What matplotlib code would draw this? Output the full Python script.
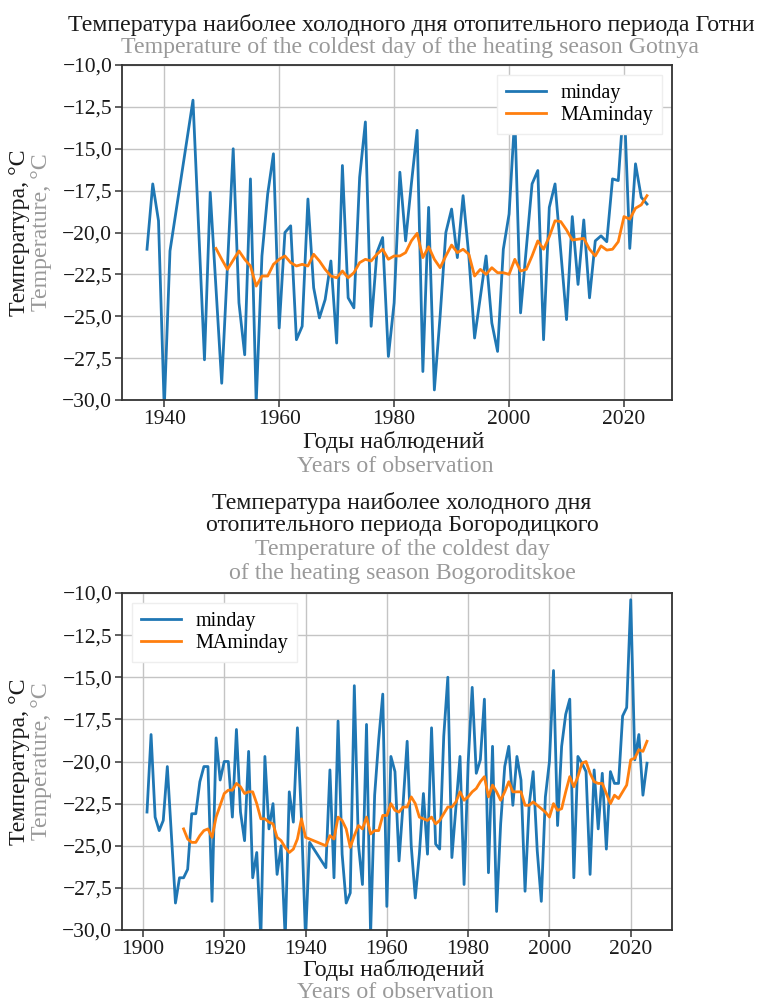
import matplotlib
matplotlib.use("Agg")
import matplotlib.pyplot as plt
from matplotlib.ticker import FuncFormatter, MultipleLocator

# ---------------- data: Gotnya ----------------
years_top = [1937, 1938, 1939, 1940, 1941, 1945, 1947, 1948, 1950, 1952, 1953, 1954,
             1955, 1956, 1957, 1958, 1959, 1960, 1961, 1962, 1963, 1964, 1965, 1966,
             1967, 1968, 1969, 1970, 1971, 1972, 1973, 1974, 1975, 1976, 1977, 1978,
             1979, 1980, 1981, 1982, 1983, 1984, 1985, 1986, 1987, 1988, 1989, 1990,
             1991, 1992, 1993, 1994, 1996, 1997, 1998, 1999, 2000, 2001, 2002, 2004,
             2005, 2006, 2007, 2008, 2010, 2011, 2012, 2013, 2014, 2015, 2016, 2017,
             2018, 2019, 2020, 2021, 2022, 2023, 2024]
minday_top = [-21.0, -17.1, -19.3, -30.5, -21.1, -12.1, -27.6, -17.6, -29.0, -15.0, -24.2, -27.3,
              -16.8, -30.2, -21.4, -17.7, -15.3, -25.7, -20.0, -19.6, -26.4, -25.6, -18.0, -23.3,
              -25.1, -24.0, -21.7, -26.6, -16.0, -23.9, -24.5, -16.7, -13.4, -25.6, -21.2, -20.3,
              -27.4, -24.2, -16.4, -20.5, -17.1, -13.9, -28.3, -18.5, -29.4, -25.0, -20.0, -18.6,
              -21.5, -17.8, -21.4, -26.3, -21.4, -25.4, -27.1, -21.0, -18.9, -13.0, -24.8, -17.1,
              -16.3, -26.4, -18.5, -17.1, -25.2, -19.05, -23.1, -19.25, -23.9, -20.5, -20.2, -20.55,
              -16.8, -16.9, -12.0, -20.95, -15.9, -17.9, -18.3]

ma_years_top = list(range(1949, 2025))
maminday_top = [-20.95, -21.6, -22.2, -21.65, -21.1, -21.6, -22.0, -23.2, -22.6, -22.6,
                -21.9, -21.6, -21.4, -21.8, -22.0, -21.9, -22.0, -21.3, -21.7, -22.2,
                -22.6, -22.7, -22.3, -22.7, -22.4, -21.8, -21.6, -21.7, -21.3, -21.0,
                -21.6, -21.4, -21.4, -21.2, -20.5, -20.05, -21.5, -20.85, -21.6, -22.1,
                -21.4, -20.75, -21.2, -21.0, -21.3, -22.6, -22.2, -22.5, -22.1, -22.4,
                -22.4, -22.5, -21.6, -22.3, -22.2, -21.4, -20.5, -21.0, -20.25, -19.3,
                -19.35, -19.85, -20.45, -20.4, -20.35, -21.0, -21.4, -20.8, -21.05, -21.0,
                -20.55, -19.05, -19.2, -18.55, -18.35, -17.8]

# ---------------- data: Bogoroditskoe ----------------
years_bot = [1901, 1902, 1903, 1904, 1905, 1906, 1908, 1909, 1910, 1911, 1912, 1913,
             1914, 1915, 1916, 1917, 1918, 1919, 1920, 1921, 1922, 1923, 1924, 1925,
             1926, 1927, 1928, 1929, 1930, 1931, 1932, 1933, 1934, 1935, 1936, 1937,
             1938, 1939, 1940, 1941, 1945, 1946, 1947, 1948, 1949, 1950, 1951, 1952,
             1953, 1954, 1955, 1956, 1957, 1958, 1959, 1960, 1961, 1962, 1963, 1964,
             1965, 1966, 1967, 1968, 1969, 1970, 1971, 1972, 1973, 1974, 1975, 1976,
             1977, 1978, 1979, 1980, 1981, 1982, 1983, 1984, 1985, 1986, 1987, 1988,
             1989, 1990, 1991, 1992, 1993, 1994, 1995, 1996, 1997, 1998, 1999, 2000,
             2001, 2002, 2003, 2004, 2005, 2006, 2007, 2008, 2009, 2010, 2011, 2012,
             2013, 2014, 2015, 2016, 2017, 2018, 2019, 2020, 2021, 2022, 2023, 2024]
minday_bot = [-23.0, -18.4, -23.3, -24.1, -23.5, -20.3, -28.4, -26.9, -26.9, -26.4, -23.1, -23.1,
              -21.2, -20.3, -20.3, -28.3, -18.6, -21.1, -20.0, -20.0, -23.3, -18.1, -23.0, -24.7,
              -19.4, -26.9, -25.4, -30.5, -19.7, -24.0, -22.5, -26.7, -25.0, -30.5, -21.8, -23.6,
              -18.0, -23.4, -30.5, -24.8, -26.3, -20.5, -26.9, -17.6, -25.5, -28.4, -27.8, -15.5,
              -24.9, -27.3, -17.8, -30.3, -22.0, -18.7, -16.0, -28.6, -19.7, -20.6, -25.9, -22.5,
              -18.8, -25.0, -28.1, -25.5, -21.9, -25.5, -18.0, -24.9, -25.2, -18.5, -15.0, -25.7,
              -22.7, -19.7, -27.3, -20.1, -15.6, -20.7, -19.9, -16.3, -26.6, -19.1, -28.9, -23.7,
              -20.3, -19.1, -22.6, -19.7, -21.1, -27.7, -22.6, -20.6, -25.3, -28.3, -22.1, -20.0,
              -14.6, -23.8, -19.1, -17.2, -16.3, -26.9, -19.7, -20.1, -20.6, -26.7, -20.5, -24.0,
              -20.7, -25.2, -20.6, -21.3, -21.3, -17.3, -16.8, -10.4, -19.9, -18.4, -22.0, -20.1]

ma_years_bot = list(range(1910, 1942)) + list(range(1945, 2025))
maminday_bot = [-24.0, -24.6, -24.8, -24.8, -24.4, -24.1, -24.0, -24.5, -23.3, -22.6,
                -21.9, -21.7, -21.7, -21.3, -21.5, -21.9, -21.8, -21.8, -22.5, -23.4,
                -23.4, -23.6, -23.7, -24.5, -24.7, -25.1, -25.4, -25.2, -24.6, -23.4,
                -24.5, -24.6,
                -25.0, -24.4, -24.6, -23.3, -23.5, -24.0, -25.1, -24.4, -23.8, -24.0,
                -23.3, -24.3, -24.1, -24.1, -23.2, -23.2, -22.5, -22.9, -23.0, -22.7,
                -22.7, -22.1, -22.5, -23.3, -23.4, -23.5, -23.3, -23.7, -23.5, -23.1,
                -22.7, -22.7, -22.4, -21.8, -22.3, -22.1, -21.8, -21.6, -21.2, -20.9,
                -22.1, -21.4, -21.8, -22.3, -21.8, -21.2, -21.8, -21.8, -21.8, -22.6,
                -22.6, -22.4, -22.6, -22.8, -23.0, -23.3, -22.5, -22.9, -22.8, -21.8,
                -20.9, -21.5, -20.9, -20.1, -20.0, -20.7, -21.2, -21.3, -21.3, -21.9,
                -22.5, -22.0, -22.2, -21.8, -21.4, -19.9, -19.8, -19.3, -19.4, -18.8]

title_top_ru = "Температура наиболее холодного дня отопительного периода Готни"
title_top_en = "Temperature of the coldest day of the heating season Gotnya"
title_bot_ru = ["Температура наиболее холодного дня", "отопительного периода Богородицкого"]
title_bot_en = ["Temperature of the coldest day", "of the heating season Bogoroditskoe"]
ylabel_ru = "Температура, °C"
ylabel_en = "Temperature, °C"
xlabel_ru = "Годы наблюдений"
xlabel_en = "Years of observation"

plt.rcParams['font.family'] = ['Liberation Serif', 'DejaVu Serif']

GREY = '#999999'
BLUE = '#1f77b4'
ORANGE = '#ff7f0e'
TICK_FS = 15.5
TITLE_FS = 17.2
LABEL_FS = 17.2
LEG_FS = 14.5

fig = plt.figure(figsize=(7.59, 10.02), dpi=100)
W, H = 759, 1002


def fx(px):
    return px / W


def fy(py):
    return 1 - py / H


ax1 = fig.add_axes([fx(122), fy(400), fx(672) - fx(122), fy(65) - fy(400)])
ax2 = fig.add_axes([fx(122), fy(930), fx(672) - fx(122), fy(593) - fy(930)])

fmt = FuncFormatter(lambda v, p: ("%.1f" % v).replace('.', ',').replace('-', '\u2212'))

for ax, yrs, vals, myrs, mvals, loc in [
        (ax1, years_top, minday_top, ma_years_top, maminday_top, 'upper right'),
        (ax2, years_bot, minday_bot, ma_years_bot, maminday_bot, 'upper left')]:
    ax.plot(yrs, vals, color=BLUE, lw=2, label='minday')
    ax.plot(myrs, mvals, color=ORANGE, lw=2, label='MAminday')
    ax.set_ylim(-30, -10)
    ax.yaxis.set_major_locator(MultipleLocator(2.5))
    ax.xaxis.set_major_locator(MultipleLocator(20))
    ax.yaxis.set_major_formatter(fmt)
    ax.grid(True, color='#c4c4c4', lw=1)
    ax.set_axisbelow(True)
    for s in ax.spines.values():
        s.set_color('#333333')
        s.set_linewidth(1.3)
    ax.tick_params(labelsize=TICK_FS, length=5, width=1.1, colors='#333333',
                   labelcolor='#1a1a1a', pad=2)
    ax.legend(loc=loc, fontsize=LEG_FS, frameon=True, framealpha=1.0,
              edgecolor='#eeeeee', fancybox=False, borderpad=0.45,
              labelspacing=0.15, handlelength=2.0, handletextpad=0.7)

# titles
fig.text(fx(411), fy(25), title_top_ru, ha='center', va='center', fontsize=TITLE_FS,
         color='#1a1a1a')
fig.text(fx(410), fy(47), title_top_en, ha='center', va='center', fontsize=TITLE_FS, color=GREY)
for txt, py in zip(title_bot_ru, [503, 526]):
    fig.text(fx(402), fy(py), txt, ha='center', va='center', fontsize=TITLE_FS, color='#1a1a1a')
for txt, py in zip(title_bot_en, [550, 574]):
    fig.text(fx(402), fy(py), txt, ha='center', va='center', fontsize=TITLE_FS, color=GREY)

# y labels
for cy in [(65 + 400) / 2, (593 + 930) / 2]:
    fig.text(fx(20), fy(cy), ylabel_ru, rotation=90, ha='center', va='center',
             fontsize=LABEL_FS, color='#1a1a1a')
    fig.text(fx(42), fy(cy), ylabel_en, rotation=90, ha='center', va='center',
             fontsize=LABEL_FS, color=GREY)

# x labels
fig.text(fx(394), fy(442), xlabel_ru, ha='center', va='center', fontsize=LABEL_FS,
         color='#1a1a1a')
fig.text(fx(395), fy(466), xlabel_en, ha='center', va='center', fontsize=LABEL_FS, color=GREY)
fig.text(fx(394), fy(970), xlabel_ru, ha='center', va='center', fontsize=LABEL_FS,
         color='#1a1a1a')
fig.text(fx(395), fy(992), xlabel_en, ha='center', va='center', fontsize=LABEL_FS, color=GREY)

fig.savefig('out.png', dpi=100)
